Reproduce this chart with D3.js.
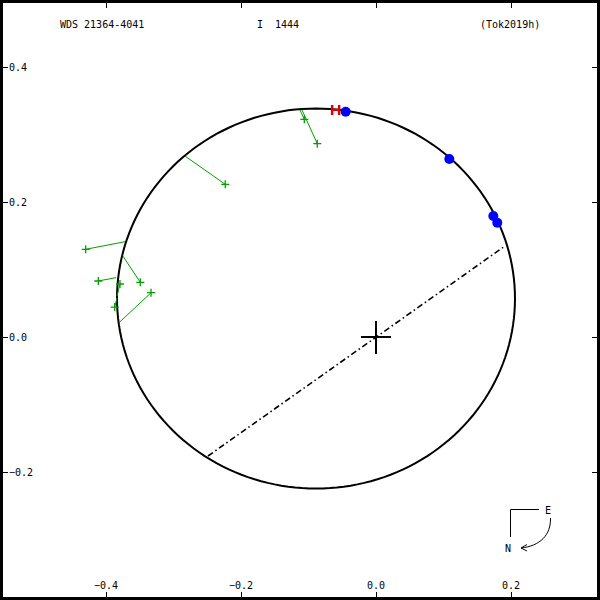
<!DOCTYPE html>
<html><head><meta charset="utf-8">
<script src="https://cdn.jsdelivr.net/npm/d3@7"></script>
<style>body{margin:0;background:#fff}svg{display:block}text{font-family:"DejaVu Sans Mono",monospace;font-size:10px;fill:#000}</style>
</head><body><svg id="c" width="600" height="600"></svg>
<script>
// ---- data ----
const titleTexts = ["WDS 21364-4041", "I  1444", "(Tok2019h)"];
const xTicks = [-0.4, -0.2, 0.0, 0.2];
const yTicks = [0.4, 0.2, 0.0, -0.2];
// orbit (apparent ellipse): center x, center y, semi-axis x, semi-axis y
const orbitCenter = [-0.0889, 0.0570];
const orbitAxes = [0.2948, 0.2815];
// line of nodes endpoints
const nodesX = [-0.2489, 0.1911];
const nodesY = [-0.1763, 0.1348];
// micrometric / visual observations (green) and their orbit positions
const obsX  = [-0.2233, -0.1062, -0.0870, -0.4301, -0.3492, -0.4114, -0.3793, -0.3871, -0.3333];
const obsY  = [ 0.2262,  0.3225,  0.2864,  0.1299,  0.0810,  0.0830,  0.0785,  0.0444,  0.0656];
const predX = [-0.2830, -0.1126, -0.1096, -0.3719, -0.3753, -0.3852, -0.3837, -0.3837, -0.3807];
const predY = [ 0.2681,  0.3363,  0.3363,  0.1412,  0.1204,  0.0879,  0.0607,  0.0578,  0.0212];
// speckle observations (blue)
const specX = [-0.0449, 0.1086, 0.1738, 0.1797];
const specY = [ 0.3338, 0.2637, 0.1793, 0.1693];
// red error bar (x range, y)
const redX = [-0.0650, -0.0546];
const redY = [0.3363];

// ---- scales ----
const x = d3.scaleLinear().domain([0, 0.2]).range([376, 511]);
const y = d3.scaleLinear().domain([0, 0.2]).range([337, 202]);
const svg = d3.select("#c");

// frame
svg.append("rect").attr("x",1.5).attr("y",1.5).attr("width",597).attr("height",597)
  .attr("fill","none").attr("stroke","#000").attr("stroke-width",3);

// ticks
xTicks.forEach(t=>{
  const px = Math.round(x(t))+0.5;
  svg.append("line").attr("x1",px).attr("x2",px).attr("y1",3).attr("y2",8).attr("stroke","#000");
  svg.append("line").attr("x1",px).attr("x2",px).attr("y1",592).attr("y2",597).attr("stroke","#000");
  svg.append("text").attr("x",x(t)).attr("y",589).attr("text-anchor","middle").text(d3.format(".1f")(t));
});
yTicks.forEach(t=>{
  const py = Math.round(y(t))+0.5;
  svg.append("line").attr("x1",3).attr("x2",8).attr("y1",py).attr("y2",py).attr("stroke","#000");
  svg.append("line").attr("x1",592).attr("x2",597).attr("y1",py).attr("y2",py).attr("stroke","#000");
  svg.append("text").attr("x",9).attr("y",y(t)+4).text(d3.format(".1f")(t));
});

// titles
const tx = [60, 257, 480];
titleTexts.forEach((s,i)=>svg.append("text").attr("x",tx[i]).attr("y",28).attr("xml:space","preserve").style("white-space","pre").text(s));

// orbit ellipse
const angles = d3.range(0, 361, 2).map(a=>a*Math.PI/180);
svg.append("path")
  .attr("d", d3.line().x(a=>x(orbitCenter[0]+orbitAxes[0]*Math.cos(a))).y(a=>y(orbitCenter[1]+orbitAxes[1]*Math.sin(a)))(angles))
  .attr("fill","none").attr("stroke","#000").attr("stroke-width",2);

// line of nodes
svg.append("line").attr("x1",x(nodesX[0])).attr("y1",y(nodesY[0])).attr("x2",x(nodesX[1])).attr("y2",y(nodesY[1]))
  .attr("stroke","#000").attr("stroke-width",1.6).attr("stroke-dasharray","6,3,1.5,3");

// center cross
svg.append("line").attr("x1",x(0)-15).attr("x2",x(0)+15).attr("y1",y(0)).attr("y2",y(0)).attr("stroke","#000").attr("stroke-width",2);
svg.append("line").attr("x1",x(0)).attr("x2",x(0)).attr("y1",y(0)-16).attr("y2",y(0)+17).attr("stroke","#000").attr("stroke-width",2);

// residual lines and plus markers
const green = "#00a000";
obsX.forEach((v,i)=>{
  svg.append("line").attr("x1",x(v)).attr("y1",y(obsY[i])).attr("x2",x(predX[i])).attr("y2",y(predY[i]))
    .attr("stroke",green).attr("stroke-width",1);
  const cx = x(v), cy = y(obsY[i]);
  svg.append("path").attr("d",`M${cx-4},${cy}H${cx+4}M${cx},${cy-4}V${cy+4}`).attr("stroke",green).attr("stroke-width",1.3);
});

// red error bar
svg.append("line").attr("x1",x(redX[0])).attr("x2",x(redX[1])).attr("y1",y(redY[0])).attr("y2",y(redY[0])).attr("stroke","#e00000").attr("stroke-width",2);
redX.forEach(v=>svg.append("line").attr("x1",x(v)).attr("x2",x(v)).attr("y1",y(redY[0])-5).attr("y2",y(redY[0])+5).attr("stroke","#e00000").attr("stroke-width",2.5));

// speckle points
specX.forEach((v,i)=>svg.append("circle").attr("cx",x(v)).attr("cy",y(specY[i])).attr("r",5).attr("fill","#0000ff"));

// compass
const g = svg.append("g");
g.append("path").attr("d","M539,509.5H510.5V537").attr("fill","none").attr("stroke","#000");
g.append("text").attr("x",545).attr("y",514).text("E");
g.append("text").attr("x",505).attr("y",552).text("N");
g.append("path").attr("d","M550.5,518 C551,535 540,546 521,548").attr("fill","none").attr("stroke","#000");
g.append("path").attr("d","M527,544.5 L521,548 L527,551").attr("fill","none").attr("stroke","#000");
</script></body></html>
